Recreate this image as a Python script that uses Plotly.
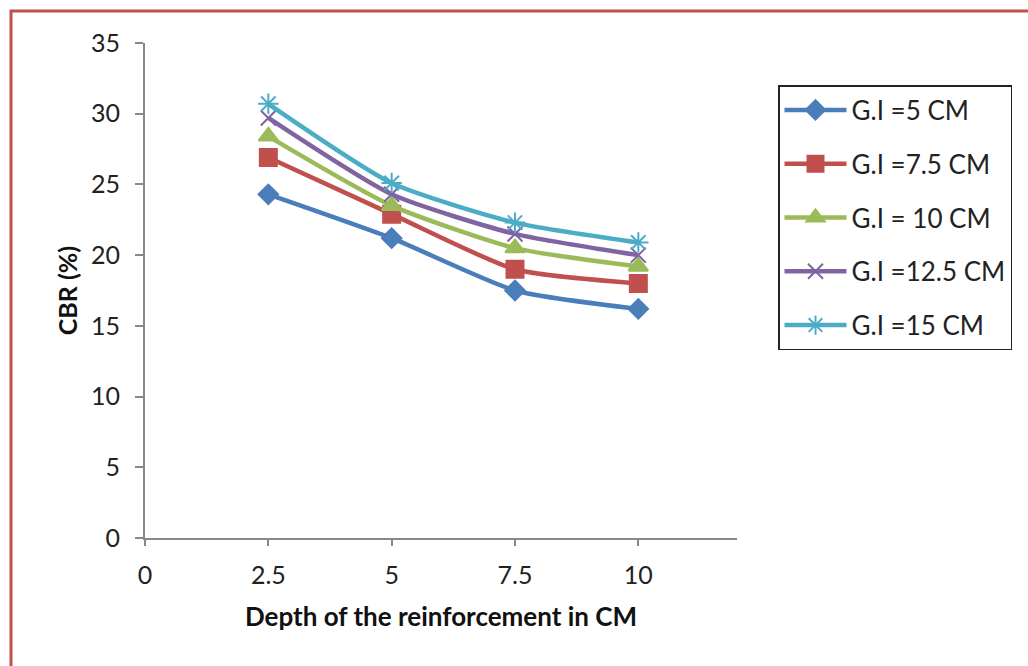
import plotly.graph_objects as go

# Depth of reinforcement (cm) and CBR (%) for each geogrid interval
depth = [2.5, 5, 7.5, 10]
series_names = ["G.I =5 CM", "G.I =7.5 CM", "G.I = 10 CM", "G.I =12.5 CM", "G.I =15 CM"]
cbr_gi_5 = [24.3, 21.2, 17.5, 16.2]
cbr_gi_7_5 = [26.9, 22.9, 19.0, 18.0]
cbr_gi_10 = [28.4, 23.5, 20.5, 19.2]
cbr_gi_12_5 = [29.7, 24.3, 21.5, 20.0]
cbr_gi_15 = [30.7, 25.1, 22.3, 20.9]
x_ticks = [0, 2.5, 5, 7.5, 10]
y_ticks = [0, 5, 10, 15, 20, 25, 30, 35]

series_values = [cbr_gi_5, cbr_gi_7_5, cbr_gi_10, cbr_gi_12_5, cbr_gi_15]
colors = ["#4A7EBB", "#C0504D", "#9BBB59", "#8064A2", "#4BACC6"]
symbols = ["diamond", "square", "triangle-up", "x-thin-open", "asterisk-open"]
sizes = [15, 17, 17, 15, 17]

fig = go.Figure()
for i, (name, vals) in enumerate(zip(series_names, series_values)):
    fig.add_trace(go.Scatter(
        x=depth, y=vals, name=name, mode="lines+markers",
        legendgroup=f"g{i}",
        line=dict(color=colors[i], width=4.5, shape="spline", smoothing=0.6),
        marker=dict(symbol=symbols[i], size=sizes[i], color=colors[i],
                    line=dict(color=colors[i], width=2)),
    ))

font_family = "Lato, 'Open Sans', sans-serif"
L, R, T, B = 145, 737, 43, 538
W, H = 1028, 666


def px(xp):
    return (xp - L) / (R - L)


def py(yp):
    return (B - yp) / (B - T)


fig.update_layout(
    width=W, height=H,
    margin=dict(l=L, r=W - R, t=T, b=H - B),
    paper_bgcolor="white", plot_bgcolor="white",
    font=dict(family=font_family, size=25, color="#222222"),
    showlegend=True,
    legend=dict(
        x=px(778), y=py(85), xanchor="left", yanchor="top",
        bordercolor="#222222", borderwidth=1.5, bgcolor="white",
        font=dict(size=26, color="#222222"),
        tracegroupgap=17, itemwidth=62,
    ),
    xaxis=dict(
        range=[0, 12], tickvals=x_ticks, ticktext=[str(v) for v in x_ticks],
        showgrid=False, zeroline=False, showline=True,
        linecolor="#888888", linewidth=2,
        ticks="outside", ticklen=6, tickcolor="#888888", tickwidth=2,
        ticklabelstandoff=8,
        title=dict(text="<b>Depth of the reinforcement in CM</b>",
                   font=dict(size=26, color="#111111"), standoff=20),
    ),
    yaxis=dict(
        range=[0, 35], tickvals=y_ticks,
        showgrid=False, zeroline=False, showline=True,
        linecolor="#888888", linewidth=2,
        ticks="outside", ticklen=8, tickcolor="#888888", tickwidth=2,
        ticklabelstandoff=10,
        title=dict(text="<b>CBR (%)</b>", font=dict(size=25, color="#111111"),
                   standoff=6),
    ),
)

# Red frame around the whole chart
fig.add_shape(type="rect", xref="paper", yref="paper",
              x0=px(11), x1=px(1045), y0=py(685), y1=py(11),
              line=dict(color="#C0504D", width=3), fillcolor="rgba(0,0,0,0)",
              layer="below")

fig.write_html("out.html")
